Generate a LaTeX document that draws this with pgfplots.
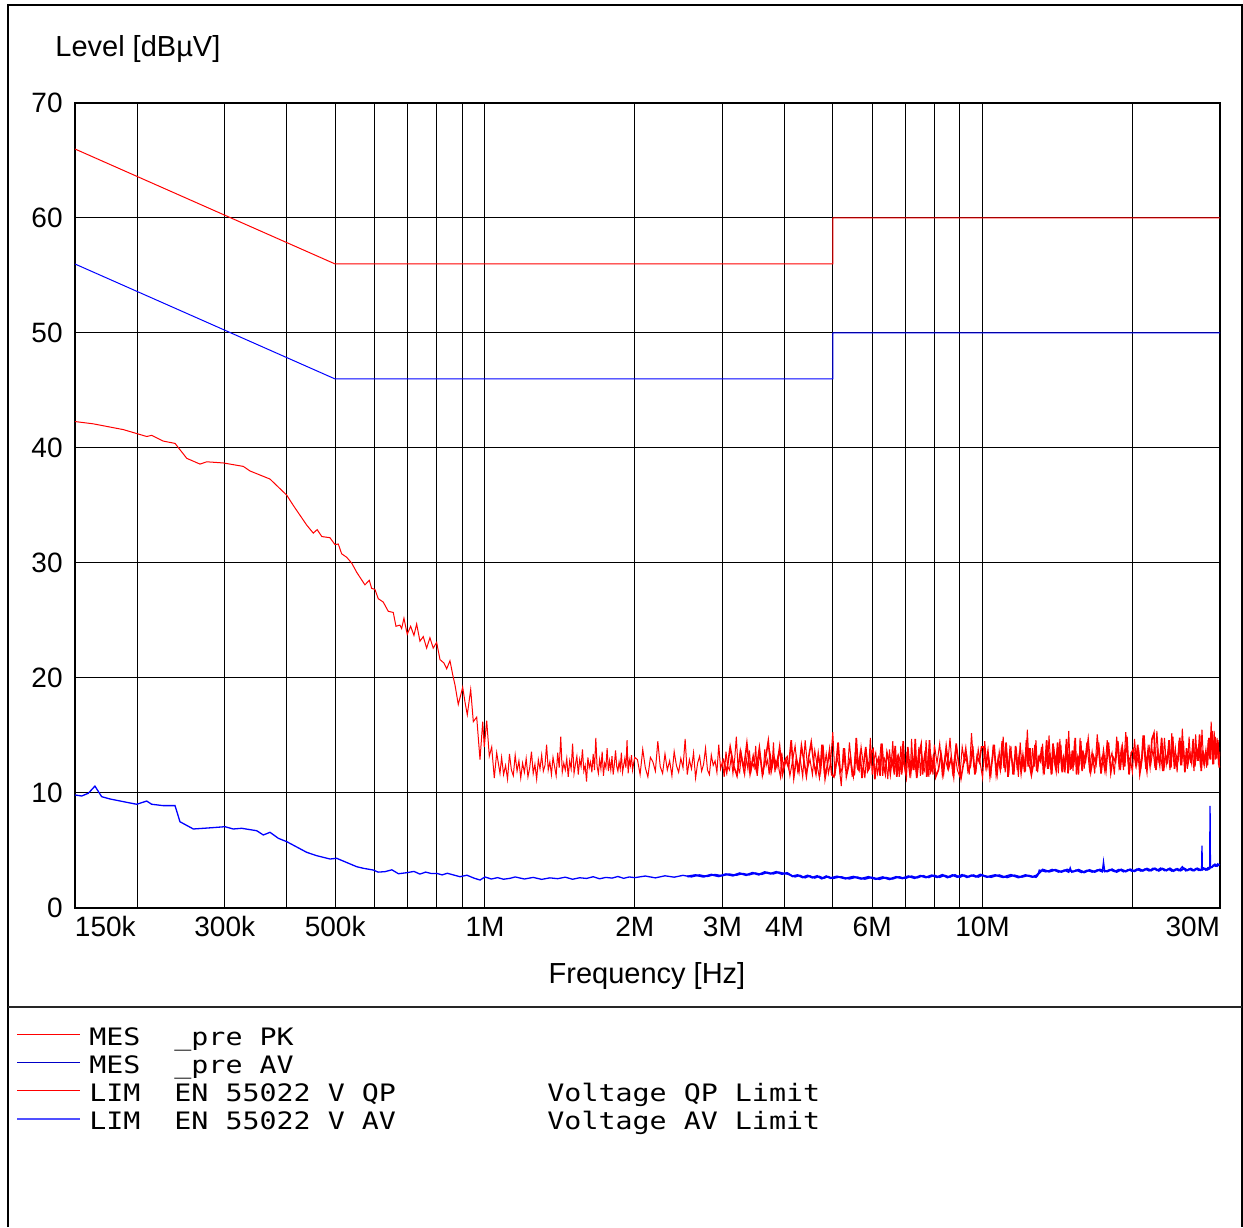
\documentclass[border=0pt]{standalone}
\usepackage{fontspec}
\setmainfont{Liberation Sans}
\newfontfamily\monofont[FakeStretch=1.18]{DejaVu Sans Mono}
\usepackage{pgfplots}
\pgfplotsset{compat=1.18}
\definecolor{avdark}{RGB}{0,0,200}
\definecolor{avlight}{RGB}{80,80,255}
\begin{document}
\begin{tikzpicture}
\path (0pt,0pt) rectangle (621.5pt,613.5pt);
\draw[line width=0.7pt] (4pt,0pt) -- (4pt,611pt) -- (621pt,611pt) -- (621pt,0pt);
\draw[line width=0.7pt, black!85] (4pt,110pt) -- (621pt,110pt);
\begin{axis}[
  at={(37.5pt,159.5pt)}, anchor=south west,
  scale only axis, width=572.5pt, height=402.5pt,
  xmode=log, xmin=0.15, xmax=30, ymin=0, ymax=70,
  xtick={0.15,0.2,0.3,0.4,0.5,0.6,0.7,0.8,0.9,1,2,3,4,5,6,7,8,9,10,20,30},
  xticklabels={\makebox[0pt][l]{150k},,300k,,500k,,,,,1M,2M,3M,4M,,6M,,,,10M,,\makebox[0pt][r]{30M}},
  ytick={0,10,20,30,40,50,60,70},
  /pgf/number format/assume math mode=true,
  xticklabel style={anchor=base, yshift=-14.5pt, inner sep=0pt, font=\fontsize{14}{16}\selectfont},
  yticklabel style={anchor=east, xshift=-6pt, inner sep=0pt, font=\fontsize{14}{16}\selectfont},
  major tick length=0pt, minor tick length=0pt,
  grid=major, xminorgrids=false, yminorgrids=false,
  major grid style={line width=0.5pt, black},
  axis line style={line width=0.9pt, black},
]
% QP limit
\addplot[red, line width=0.5pt] coordinates {(0.15,66) (0.5,56) (5,56) (5,60) (30,60)};
% AV limit
\addplot[blue, line width=0.5pt] coordinates {(0.15,56) (0.5,46) (5,46) (5,50) (30,50)};
% AV measurement
\addplot[blue, line width=0.65pt] coordinates {
(0.1500,9.83) (0.1547,9.74) (0.1595,9.97) (0.1645,10.60) (0.1697,9.68) (0.1764,9.48) (0.1905,9.19) (0.1996,9.02) (0.2090,9.30) (0.2139,9.02)
(0.2257,8.90) (0.2383,8.90) (0.2438,7.50) (0.2594,6.87) (0.2844,6.99) (0.3002,7.07) (0.3120,6.87) (0.3244,6.93) (0.3478,6.72) (0.3586,6.35)
(0.3699,6.58) (0.3844,6.06) (0.3996,5.77) (0.4383,4.84) (0.4590,4.55) (0.4882,4.26) (0.5036,4.32) (0.5524,3.59) (0.57,3.45) (0.5965,3.30)
(0.61,3.12) (0.6296,3.16) (0.65,3.32) (0.67,2.98) (0.6964,3.07) (0.72,3.18) (0.74,2.95) (0.76,3.12) (0.78,3.00) (0.80,3.01)
(0.82,2.88) (0.84,3.02) (0.86,2.90) (0.8908,2.72) (0.92,2.85) (0.95,2.60) (0.9774,2.43) (1.00,2.70) (1.03,2.52) (1.06,2.64)
(1.09,2.50) (1.1226,2.58) (1.15,2.70) (1.20,2.52) (1.25,2.66) (1.30,2.49) (1.35,2.62) (1.40,2.55) (1.45,2.68) (1.50,2.50)
(1.55,2.63) (1.60,2.57) (1.65,2.72) (1.70,2.54) (1.75,2.66) (1.80,2.60) (1.85,2.74) (1.90,2.58) (1.95,2.70) (2.00,2.64)
(2.1,2.78) (2.2,2.62) (2.3,2.80) (2.4,2.68) (2.5,2.84) (2.6,2.70) (2.7,2.88) (2.8,2.74) (2.9,2.92) (3.0,2.80)
(3.1,2.96) (3.2,2.84) (3.3,3.00) (3.4,2.88) (3.5,3.04) (3.6,2.92) (3.7,3.10) (3.8,2.96) (3.9,3.12) (4.0,3.00)
(4.1,2.88) (4.2,2.70) (4.3,2.84) (4.4,2.62) (4.5,2.80) (4.6,2.60) (4.7,2.76) (4.8,2.58) (4.9,2.74) (5.0,2.56)
(5.2,2.72) (5.4,2.52) (5.6,2.70) (5.8,2.50) (6.0,2.68) (6.2,2.48) (6.4,2.66) (6.6,2.52) (6.8,2.72) (7.0,2.56)
(7.2,2.78) (7.4,2.62) (7.6,2.82) (7.8,2.64) (8.0,2.86) (8.2,2.66) (8.4,2.84) (8.6,2.68) (8.8,2.90) (9.0,2.66)
(9.2,2.86) (9.4,2.70) (9.6,2.88) (9.8,2.68) (10.0,2.86) (10.4,2.66) (10.8,2.88) (11.2,2.64) (11.6,2.86) (12.0,2.68)
(12.4,2.84) (12.8,2.66) (12.9,2.80) (13.0,3.30) (13.4,3.14) (13.8,3.36) (14.2,3.12) (14.6,3.30) (14.9,3.10) (15.0,3.50)
(15.1,3.12) (15.4,3.30) (15.8,3.08) (16.2,3.28) (16.6,3.12) (17.0,3.32) (17.4,3.14) (17.5,4.03) (17.6,3.16) (18.0,3.34)
(18.4,3.16) (18.8,3.36) (19.2,3.14) (19.6,3.34) (20.0,3.18) (20.4,3.38) (20.8,3.20) (21.2,3.40) (21.6,3.22) (22.0,3.46)
(22.4,3.26) (22.8,3.48) (23.2,3.24) (23.6,3.40) (24.0,3.20) (24.4,3.38) (24.8,3.24) (25.2,3.60) (25.6,3.22) (26.0,3.40)
(26.4,3.24) (26.8,3.42) (27.2,3.26) (27.55,3.36) (27.6,5.42) (27.65,3.30) (28.0,3.44) (28.3,3.30) (28.6,3.40) (28.65,8.87)
(28.7,3.50) (29.0,3.60) (29.3,3.82) (29.6,3.62) (30.0,3.80)
};
% AV measurement, interleaved sweep points (dense part)
\addplot[blue, line width=1.0pt] coordinates {
(2.55,2.74) (2.65,2.86) (2.75,2.72) (2.85,2.90) (2.95,2.76) (3.05,2.94) (3.15,2.82) (3.25,3.02) (3.35,2.86) (3.45,3.06)
(3.55,2.90) (3.65,3.12) (3.75,2.98) (3.85,3.14) (3.95,2.96) (4.05,3.04) (4.15,2.76) (4.25,2.86) (4.35,2.66) (4.45,2.82)
(4.55,2.64) (4.65,2.78) (4.75,2.56) (4.85,2.76) (4.95,2.60) (5.1,2.74) (5.3,2.56) (5.5,2.72) (5.7,2.54) (5.9,2.70)
(6.1,2.52) (6.3,2.68) (6.5,2.50) (6.7,2.70) (6.9,2.58) (7.1,2.76) (7.3,2.60) (7.5,2.80) (7.7,2.66) (7.9,2.84)
(8.1,2.68) (8.3,2.88) (8.5,2.66) (8.7,2.86) (8.9,2.70) (9.1,2.88) (9.3,2.68) (9.5,2.84) (9.7,2.72) (9.9,2.90)
(10.2,2.70) (10.6,2.86) (11.0,2.68) (11.4,2.88) (11.8,2.66) (12.2,2.86) (12.6,2.70) (12.85,2.84) (13.2,3.34) (13.6,3.16)
(14.0,3.32) (14.4,3.14) (14.8,3.34) (15.2,3.16) (15.6,3.32) (16.0,3.10) (16.4,3.30) (16.8,3.14) (17.2,3.34) (17.8,3.18)
(18.2,3.36) (18.6,3.14) (19.0,3.34) (19.4,3.18) (19.8,3.36) (20.2,3.20) (20.6,3.40) (21.0,3.24) (21.4,3.42) (21.8,3.26)
(22.2,3.44) (22.6,3.24) (23.0,3.42) (23.4,3.26) (23.8,3.44) (24.2,3.22) (24.6,3.40) (25.0,3.26) (25.4,3.44) (25.8,3.28)
(26.2,3.42) (26.6,3.26) (27.0,3.44) (27.4,3.30) (27.8,3.46) (28.1,3.32) (28.4,3.48) (28.9,3.56) (29.1,3.70) (29.45,3.66)
(29.8,3.86)
};
% PK measurement
\addplot[red, line width=0.5pt] coordinates {
(0.1500,42.3) (0.1633,42.1) (0.1876,41.6) (0.2090,41.0) (0.2139,41.1) (0.2257,40.6) (0.2383,40.4) (0.2516,39.1) (0.2675,38.6) (0.2759,38.8)
(0.2980,38.7) (0.3269,38.4) (0.3372,38.0) (0.3698,37.3) (0.3996,35.9) (0.4120,35.0) (0.4382,33.3) (0.4518,32.6) (0.46,32.9) (0.47,32.3)
(0.4880,32.2) (0.4995,31.6) (0.5072,31.65) (0.5152,30.8) (0.5272,30.5) (0.5396,30.0) (0.5522,29.2) (0.5738,28.1) (0.5854,28.5) (0.5919,27.8)
(0.6010,27.7) (0.6103,26.9) (0.6246,26.6) (0.6392,25.8) (0.6542,25.7) (0.6624,24.5) (0.6748,24.6) (0.6801,24.3) (0.6873,25.2) (0.6979,23.8)
(0.7090,24.5) (0.7199,23.7) (0.7290,24.7) (0.7402,23.2) (0.7516,23.6) (0.7635,22.6) (0.7753,23.5) (0.7872,22.6) (0.7997,23.1) (0.8121,21.6)
(0.8272,21.3) (0.8376,20.8) (0.8505,21.5) (0.8612,20.3) (0.8704,19.4) (0.8838,17.7) (0.9020,19.2) (0.9117,17.9) (0.9214,16.8) (0.9360,19.0)
(0.9474,16.2) (0.9624,16.6) (0.9772,12.9) (0.9895,16.2) (0.9968,14.0) (1.0080,16.3) (1.0202,13.2) (1.0316,14.0) (1.0440,11.3) (1.0557,13.5)
(1.0719,11.7)
(1.08,13.1) (1.09,11.6) (1.10,12.4) (1.11,11.2) (1.12,13.4) (1.13,12.0) (1.14,11.5) (1.15,13.3) (1.16,11.9) (1.17,12.8)
(1.18,11.3) (1.19,12.6) (1.20,11.8) (1.21,13.0) (1.22,11.4) (1.23,12.2) (1.24,13.6) (1.25,11.7) (1.26,12.5) (1.27,11.2)
(1.28,12.9) (1.29,12.1) (1.30,13.3) (1.31,11.9) (1.32,12.4) (1.33,14.2) (1.34,12.0) (1.35,12.7) (1.36,11.6) (1.37,13.1)
(1.38,12.3) (1.39,11.5) (1.40,13.5) (1.41,12.2) (1.42,14.9) (1.43,11.8) (1.44,12.6) (1.45,12.0) (1.46,13.0) (1.47,11.4)
(1.48,12.8) (1.49,12.1) (1.50,14.3) (1.51,11.7) (1.52,12.5) (1.53,13.2) (1.54,11.6) (1.55,12.9) (1.56,12.3) (1.57,13.8)
(1.58,11.9) (1.59,12.4) (1.60,11.0) (1.61,13.1) (1.62,12.2) (1.63,12.7) (1.64,11.8) (1.65,13.4) (1.66,12.0) (1.67,14.8)
(1.68,12.3) (1.69,11.7) (1.70,12.9) (1.71,12.1) (1.72,13.6) (1.73,11.5) (1.74,12.6) (1.75,12.2) (1.76,13.9) (1.77,11.9)
(1.78,12.8) (1.79,12.0) (1.80,13.2) (1.81,11.6) (1.82,12.5) (1.83,13.7) (1.84,12.3) (1.85,11.9) (1.86,12.7) (1.87,12.1)
(1.88,13.5) (1.89,11.8) (1.90,12.4) (1.91,13.0) (1.92,12.2) (1.93,14.6) (1.94,11.7) (1.95,12.9) (1.96,12.4) (1.97,13.3)
(1.98,12.0) (1.99,12.6) (2.00,13.1)
(2.025,12.9) (2.050,11.6) (2.075,13.8) (2.100,12.2) (2.125,11.4) (2.150,13.1) (2.175,12.7) (2.200,11.9) (2.225,14.5) (2.250,12.3)
(2.275,11.7) (2.300,13.4) (2.325,12.0) (2.350,12.8) (2.375,11.5) (2.400,13.6) (2.425,12.4) (2.450,11.8) (2.475,13.0) (2.500,12.2)
(2.525,14.7) (2.550,11.6) (2.575,12.9) (2.600,12.1) (2.625,13.5) (2.650,11.3) (2.675,12.6) (2.700,13.2) (2.725,11.9) (2.750,12.5)
(2.775,13.9) (2.800,12.0) (2.825,11.6) (2.850,13.3) (2.875,12.4) (2.900,12.8) (2.925,11.8) (2.950,14.2) (2.975,12.1) (3.000,12.7)
(3.025,11.4) (3.050,13.6) (3.075,12.3) (3.100,12.0) (3.125,13.1) (3.150,11.7) (3.175,12.9) (3.200,14.9) (3.225,12.2) (3.250,11.8)
(3.275,13.4) (3.300,12.5) (3.325,11.6) (3.350,13.0) (3.375,12.1) (3.400,13.7) (3.425,11.9) (3.450,12.6) (3.475,12.2) (3.500,14.1)
(3.525,11.5) (3.550,12.8) (3.575,13.3) (3.600,12.0) (3.625,11.7) (3.650,13.8) (3.675,12.4) (3.700,12.9) (3.725,11.6) (3.750,13.2)
(3.775,12.2) (3.800,14.4) (3.825,11.8) (3.850,12.6) (3.875,13.1) (3.900,12.0) (3.925,11.4) (3.950,13.5) (3.975,12.3) (4.000,12.8)
(4.05,13.2) (4.10,11.5) (4.15,12.8) (4.20,14.1) (4.25,11.9) (4.30,13.0) (4.35,11.4) (4.40,14.6) (4.45,12.2) (4.50,12.9)
(4.55,11.6) (4.60,13.7) (4.65,12.4) (4.70,11.3) (4.75,14.2) (4.80,12.0) (4.85,13.4) (4.90,11.7) (4.95,12.7) (5.00,15.3)
(5.05,11.5) (5.10,13.1) (5.15,12.3) (5.20,10.6) (5.25,13.9) (5.30,12.1) (5.35,11.8) (5.40,14.4) (5.45,12.5) (5.50,11.4)
(5.55,13.6) (5.60,12.2) (5.65,11.9) (5.70,14.0) (5.75,12.7) (5.80,11.3) (5.85,13.3) (5.90,12.0) (5.95,14.8) (6.00,11.6)
(6.05,12.9) (6.10,13.5) (6.15,11.7) (6.20,12.4) (6.25,14.3) (6.30,11.5) (6.35,13.0) (6.40,12.6) (6.45,11.2) (6.50,13.8)
(6.55,12.3) (6.60,14.5) (6.65,11.6) (6.70,12.8) (6.75,13.2) (6.80,11.4) (6.85,14.1) (6.90,12.1) (6.95,12.9) (7.00,11.7)
(7.05,13.6) (7.10,12.4) (7.15,11.3) (7.20,14.7) (7.25,12.0) (7.30,13.1) (7.35,11.8) (7.40,12.6) (7.45,14.0) (7.50,11.5)
(7.55,13.4) (7.60,12.2) (7.65,11.9) (7.70,14.6) (7.75,12.5) (7.80,11.4) (7.85,13.7) (7.90,12.8) (7.95,11.6) (8.00,14.2)
(8.1,12.6) (8.2,14.3) (8.3,11.5) (8.4,13.1) (8.5,12.2) (8.6,14.8) (8.7,11.8) (8.8,13.4) (8.9,12.0) (9.0,11.4)
(9.1,14.0) (9.2,12.7) (9.3,13.2) (9.4,11.6) (9.5,15.2) (9.6,12.3) (9.7,11.9) (9.8,13.8) (9.9,12.5) (10.0,11.3)
(10.1,14.5) (10.2,12.1) (10.3,13.0) (10.4,11.7) (10.5,14.2) (10.6,12.8) (10.7,11.5) (10.8,13.6) (10.9,12.4) (11.0,14.9)
(11.1,11.8) (11.2,13.3) (11.3,12.0) (11.4,14.1) (11.5,11.6) (11.6,12.9) (11.7,13.7) (11.8,11.4) (11.9,14.4) (12.0,12.2)
(12.1,13.1) (12.2,11.9) (12.3,15.5) (12.4,12.5) (12.5,11.7) (12.6,13.9) (12.7,12.3) (12.8,14.6) (12.9,11.8) (13.0,13.2)
(13.1,12.7) (13.2,14.3) (13.3,11.6) (13.4,13.5) (13.5,12.1) (13.6,15.0) (13.7,12.4) (13.8,11.9) (13.9,14.0) (14.0,12.8)
(14.1,13.6) (14.2,11.7) (14.3,14.7) (14.4,12.3) (14.5,13.0) (14.6,11.8) (14.7,14.2) (14.8,12.6) (14.9,15.4) (15.0,12.0)
(15.1,13.4) (15.2,11.9) (15.3,14.5) (15.4,12.7) (15.5,13.1) (15.6,11.6) (15.7,14.8) (15.8,12.4) (15.9,13.7) (16.0,12.1)
(16.2,14.4) (16.4,12.0) (16.6,13.6) (16.8,11.7) (17.0,15.1) (17.2,12.5) (17.4,13.2) (17.6,11.9) (17.8,14.6) (18.0,12.8)
(18.2,13.5) (18.4,11.6) (18.6,14.9) (18.8,12.3) (19.0,13.9) (19.2,12.0) (19.4,15.3) (19.6,12.7) (19.8,13.1) (20.0,11.8)
(20.2,14.7) (20.4,12.4) (20.6,13.7) (20.8,12.1) (21.0,15.0) (21.2,12.9) (21.4,11.7) (21.6,14.2) (21.8,12.6) (22.0,13.8)
(22.2,12.2) (22.4,15.4) (22.6,12.8) (22.8,13.3) (23.0,11.9) (23.2,14.8) (23.4,12.5) (23.6,13.6) (23.8,12.0) (24.0,15.2)
(24.2,12.7) (24.4,13.9) (24.6,11.8) (24.8,14.5) (25.0,12.4) (25.2,15.6) (25.4,12.9) (25.6,13.2) (25.8,12.1) (26.0,14.9)
(26.2,12.6) (26.4,13.7) (26.6,11.9) (26.8,15.1) (27.0,12.8) (27.2,14.0) (27.4,12.3) (27.6,15.5) (27.8,12.7) (28.0,13.4)
(28.2,12.2) (28.4,14.6) (28.6,13.0) (28.8,16.2) (29.0,12.5) (29.2,15.4) (29.4,12.9) (29.6,14.8) (29.8,12.4) (30.0,13.6)
};
% PK measurement, interleaved sweep points (dense part)
\addplot[red, line width=0.8pt] coordinates {
(3.01,13.0) (3.06,11.8) (3.11,14.0) (3.16,12.4) (3.21,11.5) (3.26,13.6) (3.31,12.1) (3.36,14.3) (3.41,11.7) (3.46,13.2)
(3.51,12.0) (3.56,13.9) (3.61,11.6) (3.66,12.9) (3.71,14.5) (3.76,11.9) (3.81,13.1) (3.86,12.3) (3.91,14.0) (3.96,11.6)
(4.025,12.9) (4.075,12.2) (4.125,14.6) (4.175,11.4) (4.225,13.0) (4.275,11.9) (4.325,14.1) (4.375,12.8) (4.425,11.5) (4.475,13.2)
(4.525,14.4) (4.575,12.7) (4.625,11.7) (4.675,13.4) (4.725,12.0) (4.775,14.2) (4.825,11.3) (4.875,12.4) (4.925,13.7) (4.975,11.6)
(5.025,11.4) (5.075,12.5) (5.125,14.4) (5.175,11.8) (5.225,12.1) (5.275,13.9) (5.325,11.5) (5.375,12.3) (5.425,13.1) (5.475,11.5)
(5.525,11.6) (5.575,14.8) (5.625,12.0) (5.675,13.3) (5.725,11.3) (5.775,12.7) (5.825,14.0) (5.875,11.9) (5.925,12.2) (5.975,13.6)
(6.025,13.8) (6.075,11.2) (6.125,12.6) (6.175,13.0) (6.225,11.5) (6.275,14.3) (6.325,12.4) (6.375,11.7) (6.425,13.5) (6.475,12.9)
(6.525,11.7) (6.575,12.9) (6.625,12.1) (6.675,14.1) (6.725,11.4) (6.775,13.2) (6.825,12.8) (6.875,11.6) (6.925,14.5) (6.975,12.3)
(7.025,11.5) (7.075,14.0) (7.125,12.6) (7.175,11.8) (7.225,13.1) (7.275,12.0) (7.325,14.7) (7.375,11.3) (7.425,12.4) (7.475,13.6)
(7.525,14.2) (7.575,11.6) (7.625,12.8) (7.675,13.7) (7.725,11.4) (7.775,12.5) (7.825,14.6) (7.875,11.9) (7.925,12.2) (7.975,13.4)
(8.05,11.4) (8.15,12.0) (8.25,13.4) (8.35,11.8) (8.45,14.0) (8.55,12.2) (8.65,13.1) (8.75,11.5) (8.85,14.3) (8.95,12.6)
(9.05,11.3) (9.15,12.5) (9.25,13.8) (9.35,11.9) (9.45,12.3) (9.55,14.1) (9.65,11.6) (9.75,13.2) (9.85,12.7) (9.95,14.0)
(10.05,14.0) (10.15,12.4) (10.25,13.6) (10.35,11.5) (10.45,12.8) (10.55,14.2) (10.65,11.7) (10.75,13.0) (10.85,12.1) (10.95,14.5)
(11.05,12.2) (11.15,14.4) (11.25,11.4) (11.35,13.7) (11.45,12.9) (11.55,11.6) (11.65,14.1) (11.75,12.0) (11.85,13.3) (11.95,11.8)
(12.05,13.2) (12.15,11.8) (12.25,14.6) (12.35,12.3) (12.45,13.9) (12.55,11.7) (12.65,12.5) (12.75,14.2) (12.85,11.9) (12.95,13.1)
(13.05,12.8) (13.15,14.0) (13.25,11.9) (13.35,12.4) (13.45,14.6) (13.55,12.1) (13.65,13.5) (13.75,11.6) (13.85,14.3) (13.95,12.7)
(14.05,12.0) (14.15,14.4) (14.25,12.6) (14.35,14.2) (14.45,11.8) (14.55,13.0) (14.65,12.3) (14.75,14.7) (14.85,11.7) (14.95,13.6)
(15.05,12.1) (15.15,13.7) (15.25,12.4) (15.35,14.8) (15.45,11.6) (15.55,13.1) (15.65,12.7) (15.75,14.5) (15.85,11.9) (15.95,13.4)
(16.1,12.8) (16.3,14.6) (16.5,11.9) (16.7,13.2) (16.9,12.5) (17.1,14.4) (17.3,11.7) (17.5,13.6) (17.7,12.0) (17.9,14.4)
(18.1,11.8) (18.3,13.1) (18.5,12.7) (18.7,14.5) (18.9,12.0) (19.1,13.9) (19.3,12.3) (19.5,14.9) (19.7,11.6) (19.9,13.5)
(20.1,13.8) (20.3,12.6) (20.5,14.2) (20.7,11.7) (20.9,12.9) (21.1,15.0) (21.3,12.1) (21.5,13.7) (21.7,12.4) (21.9,14.7)
(22.1,15.2) (22.3,12.0) (22.5,13.6) (22.7,12.5) (22.9,14.8) (23.1,11.9) (23.3,13.3) (23.5,12.8) (23.7,14.6) (23.9,12.2)
(24.1,14.9) (24.3,12.1) (24.5,13.2) (24.7,12.9) (24.9,14.8) (25.1,12.4) (25.3,14.5) (25.5,11.8) (25.7,13.9) (25.9,12.7)
(26.1,13.4) (26.3,12.7) (26.5,14.7) (26.7,12.3) (26.9,14.0) (27.1,12.8) (27.3,15.1) (27.5,11.9) (27.7,13.7) (27.9,12.6)
(28.1,13.6) (28.3,12.4) (28.5,14.8) (28.7,12.9) (28.9,15.4) (29.1,12.5) (29.3,14.9) (29.5,13.0) (29.7,14.6) (29.9,12.2)
};
\end{axis}
% axis titles
\node[anchor=base west, inner sep=0pt, font=\fontsize{14.5}{17}\selectfont] at (27.5pt,585pt) {Level [dBµV]};
\node[anchor=base, inner sep=0pt, font=\fontsize{14.5}{17}\selectfont] at (323.5pt,121.5pt) {Frequency [Hz]};
% legend
\draw[red, line width=0.5pt] (8.5pt,96.35pt) -- (40pt,96.35pt);
\draw[avdark, line width=0.5pt] (8.5pt,82.15pt) -- (40pt,82.15pt);
\draw[red, line width=0.5pt] (8.5pt,68.15pt) -- (40pt,68.15pt);
\draw[avlight, line width=0.7pt] (8.5pt,54pt) -- (40pt,54pt);
\begin{scope}[every node/.style={anchor=base west, inner sep=0pt, font=\monofont\fontsize{12}{14}\selectfont}]
\node at (44.5pt,91pt) {MES};
\node at (87pt,91pt) {\_pre PK};
\node at (44.5pt,76.8pt) {MES};
\node at (87pt,76.8pt) {\_pre AV};
\node at (44.5pt,62.8pt) {LIM};
\node at (87pt,62.8pt) {EN 55022 V QP};
\node at (273.5pt,62.8pt) {Voltage QP Limit};
\node at (44.5pt,48.65pt) {LIM};
\node at (87pt,48.65pt) {EN 55022 V AV};
\node at (273.5pt,48.65pt) {Voltage AV Limit};
\end{scope}
\end{tikzpicture}
\end{document}
